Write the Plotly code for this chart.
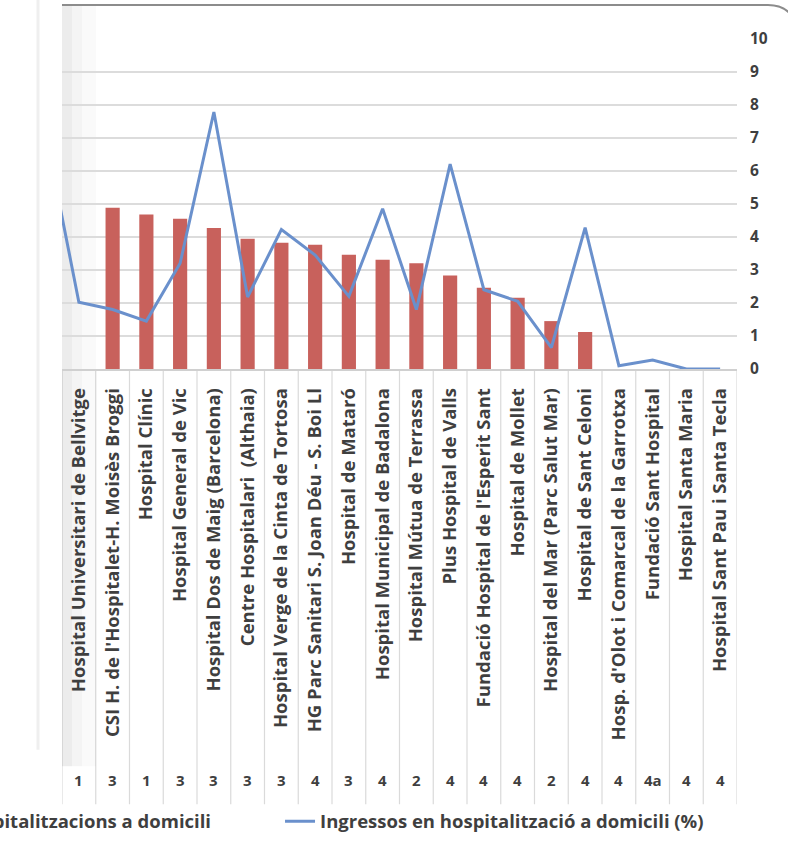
import plotly.graph_objects as go

# ---- data ----
hospitals = [
    "…",  # previous category, cut off at the left of the picture
    "Hospital Universitari de Bellvitge",
    "CSI H. de l'Hospitalet-H. Moisès Broggi",
    "Hospital Clínic",
    "Hospital General de Vic",
    "Hospital Dos de Maig (Barcelona)",
    "Centre Hospitalari  (Althaia)",
    "Hospital Verge de la Cinta de Tortosa",
    "HG Parc Sanitari S. Joan Déu - S. Boi Ll",
    "Hospital de Mataró",
    "Hospital Municipal de Badalona",
    "Hospital Mútua de Terrassa",
    "Plus Hospital de Valls",
    "Fundació Hospital de l'Esperit Sant",
    "Hospital de Mollet",
    "Hospital del Mar (Parc Salut Mar)",
    "Hospital de Sant Celoni",
    "Hosp. d'Olot i Comarcal de la Garrotxa",
    "Fundació Sant Hospital",
    "Hospital Santa Maria",
    "Hospital Sant Pau i Santa Tecla",
]
groups = ["", "1", "3", "1", "3", "3", "3", "3", "4", "3", "4", "2", "4", "4", "4", "2", "4", "4", "4a", "4", "4"]
hospitalitzacions = [None, 0.0, 4.88, 4.68, 4.55, 4.27, 3.94, 3.82, 3.76, 3.46, 3.31, 3.2, 2.83, 2.46, 2.16, 1.45, 1.12, 0.0, 0.0, 0.0, 0.0]
ingressos_pct = [7.2, 2.02, 1.8, 1.45, 3.2, 7.78, 2.18, 4.22, 3.45, 2.2, 4.85, 1.8, 6.2, 2.4, 2.05, 0.65, 4.28, 0.1, 0.27, 0.0, 0.0]
yticks = list(range(0, 11))

bar_name = "Hospitalitzacions a domicili"
line_name = "Ingressos en hospitalització a domicili (%)"

idx = list(range(-1, len(hospitals) - 1))
shown = idx[1:]

FONT = "Open Sans"
TXT = "#3F3F3F"

fig = go.Figure()
fig.add_trace(go.Bar(
    x=idx, y=hospitalitzacions, name=bar_name,
    marker=dict(color="#C8615C", line=dict(width=0)),
    width=0.42, legend="legend",
))
fig.add_trace(go.Scatter(
    x=idx, y=ingressos_pct, name=line_name, mode="lines",
    line=dict(color="#6A90CC", width=3), legend="legend2",
))

# vertical separators of the data table under the axis
shapes = []
for i in range(len(shown) + 1):
    shapes.append(dict(type="line", xref="x", yref="paper",
                       x0=shown[0] - 0.5 + i, x1=shown[0] - 0.5 + i,
                       y0=0, y1=-1.315,
                       line=dict(color="#DADADA", width=1.2), layer="below"))
# page shadow on the left edge
for w, op in [(34, 0.02), (20, 0.025), (10, 0.03)]:
    shapes.append(dict(type="rect", xref="paper", yref="paper",
                       xanchor=0, xsizemode="pixel", x0=0, x1=w,
                       y0=-1.2, y1=1.1, line=dict(width=0),
                       fillcolor=f"rgba(0,0,0,{op})", layer="below"))
# chart frame top edge with rounded corner
shapes.append(dict(type="path", xref="paper", yref="paper",
                   xanchor=0, xsizemode="pixel", yanchor=1, ysizemode="pixel",
                   path="M 0,33 L 706,33 Q 722,33 730,22",
                   line=dict(color="#8C8C8C", width=2.2)))
# faint page edge line left
shapes.append(dict(type="line", xref="paper", yref="paper",
                   xanchor=0, xsizemode="pixel", x0=-24, x1=-24,
                   y0=-1.15, y1=1.12, line=dict(color="#EFEFEF", width=3)))

annotations = []
for i, g in zip(shown, groups[1:]):
    annotations.append(dict(x=i, y=-1.242, xref="x", yref="paper", text=g,
                            showarrow=False, yanchor="middle",
                            font=dict(family=FONT, size=15, color=TXT, weight="bold")))

legend_font = dict(family=FONT, size=18.5, color=TXT, weight="bold")

fig.update_layout(
    width=788, height=844,
    margin=dict(l=62, r=51, t=38, b=475, autoexpand=False),
    paper_bgcolor="white", plot_bgcolor="white",
    bargap=0.58,
    showlegend=True,
    legend=dict(orientation="h", x=-0.2134, xanchor="left", y=-1.31, yanchor="top",
                font=legend_font, bgcolor="rgba(0,0,0,0)"),
    legend2=dict(orientation="h", x=0.323, xanchor="left", y=-1.31, yanchor="top",
                 font=legend_font, bgcolor="rgba(0,0,0,0)"),
    xaxis=dict(range=[-0.5, len(shown) - 0.5], tickmode="array",
               tickvals=shown, ticktext=hospitals[1:], tickangle=-90,
               showgrid=False, zeroline=False, showline=True,
               linecolor="#D0D0D0", linewidth=1.5, ticks="",
               ticklabelstandoff=10,
               tickfont=dict(family=FONT, size=18.5, color=TXT, weight="bold")),
    yaxis=dict(side="right", range=[0, 10.02], tickmode="array", tickvals=yticks,
               showgrid=True, gridcolor="#DCDCDC", gridwidth=1.6,
               zeroline=False, showline=False, ticks="",
               ticklabelstandoff=12,
               tickfont=dict(family=FONT, size=15.5, color=TXT, weight="bold")),
    shapes=shapes,
    annotations=annotations,
)

fig.write_html("out.html")
